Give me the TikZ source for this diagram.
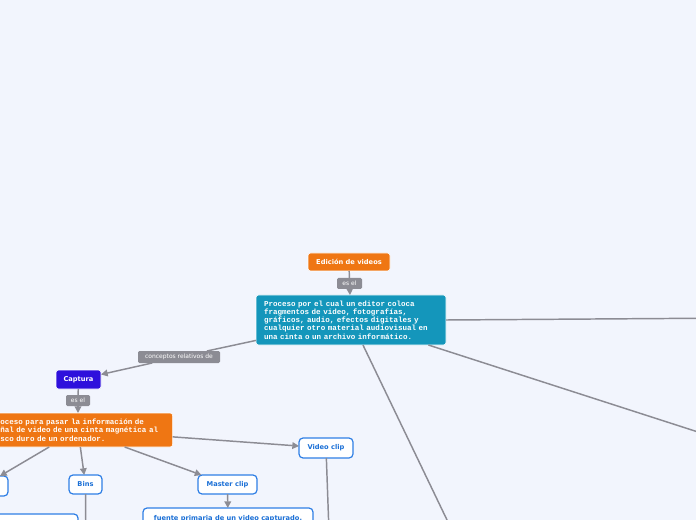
\documentclass[tikz,border=0pt]{standalone}
\usepackage{fontspec}
\usetikzlibrary{arrows.meta}
\newfontfamily\mmsans{DejaVu Sans}
\newfontfamily\mmmono{Liberation Mono}
\definecolor{mmBack}{HTML}{F2F5FD}
\definecolor{mmOrange}{HTML}{EF7613}
\definecolor{mmTeal}{HTML}{1496BB}
\definecolor{mmViolet}{HTML}{2E10DC}
\definecolor{mmBlue}{HTML}{2F7FE5}
\definecolor{mmBlueText}{HTML}{1A6FD6}
\definecolor{mmGrey}{HTML}{8C8C94}

\begin{document}
\begin{tikzpicture}[
    x=0.75pt, y=-0.75pt,
    every node/.style={inner sep=0pt, outer sep=0pt},
    topic/.style={rounded corners=2pt, draw=white, line width=0.4pt,
        font=\mmsans\bfseries\fontsize{5}{6}\selectfont, text=white},
    textbox/.style={rounded corners=2pt, draw=white, line width=0.4pt,
        font=\mmmono\bfseries\fontsize{5.65}{6.2}\selectfont,
        text=white, align=left, inner xsep=6pt},
    leaf/.style={rounded corners=3pt, fill=white, draw=mmBlue, line width=0.9pt,
        font=\mmsans\bfseries\fontsize{5}{6}\selectfont, text=mmBlueText},
    tag/.style={rounded corners=1pt, fill=mmGrey, text=white,
        font=\mmsans\fontsize{4.5}{5}\selectfont},
    link/.style={mmGrey, line width=1.1pt},
    linkto/.style={link, -{Triangle[length=5pt, width=5pt]}},
]

% frame: 696 x 520 px, y grows downward
\useasboundingbox (0,0) rectangle (696,520);
\clip (0,0) rectangle (696,520);
\fill[mmBack] (0,0) rectangle (696,520);

% ----------------------------------------------------------------------
% Central topic and its definition
% ----------------------------------------------------------------------
\node[topic, fill=mmOrange, minimum width=61.5pt, minimum height=13.5pt]
    (edicion) at (349,262) {Edición de videos};
\node[tag, minimum width=18.75pt, minimum height=8.25pt]
    (esel1) at (349.5,283.5) {es el};
\node[textbox, fill=mmTeal, text width=130.5pt, minimum height=37.5pt]
    (proceso) at (351,320)
    {Proceso por el cual un editor coloca\\
     fragmentos de video, fotografías,\\
     gráficos, audio, efectos digitales y\\
     cualquier otro material audiovisual en\\
     una cinta o un archivo informático.};

% branches leaving the frame
\coordinate (offR1) at (740,318);
\coordinate (offR2) at (760,452);
\coordinate (offB)  at (460,547);

\draw[link] (edicion) -- (esel1);
\draw[linkto] (esel1) -- (proceso);
\draw[link] (proceso.east) -- (offR1);
\draw[link] (proceso) -- (offR2);
\draw[link] (proceso) -- (offB);

% ----------------------------------------------------------------------
% Captura branch
% ----------------------------------------------------------------------
\node[tag, minimum width=61.5pt, minimum height=9pt]
    (conceptos) at (179,357) {conceptos relativos de};
\node[topic, fill=mmViolet, minimum width=33.75pt, minimum height=14.25pt]
    (captura) at (78.5,379.5) {Captura};
\node[tag, minimum width=18pt, minimum height=8.25pt]
    (esel2) at (78,400.5) {es el};
\node[textbox, fill=mmOrange, text width=130pt, minimum height=25.5pt]
    (pasar) at (78,430)
    {Proceso para pasar la información de\\
     señal de video de una cinta magnética al\\
     disco duro de un ordenador.};

\draw[link] (proceso) -- (conceptos);
\draw[linkto] (conceptos) -- (captura);
\draw[link] (captura) -- (esel2);
\draw[linkto] (esel2) -- (pasar);

% ----------------------------------------------------------------------
% Leaves under Captura
% ----------------------------------------------------------------------
\node[leaf, minimum width=37.5pt, minimum height=15pt]
    (otro) at (-17,486) {};
\node[leaf, minimum width=24.75pt, minimum height=14.25pt]
    (bins) at (85.5,484.5) {Bins};
\node[leaf, minimum width=44.25pt, minimum height=14.25pt]
    (master) at (227.5,484.5) {Master clip};
\node[leaf, minimum width=40.5pt, minimum height=15pt]
    (video) at (326,448) {Video clip};

\foreach \n in {otro,bins,master,video}
    \draw[linkto] (pasar) -- (\n);

\node[leaf, anchor=north, minimum width=127.5pt, minimum height=16pt,
    inner ysep=3pt] (fuente) at (228,508)
    {fuente primaria de un video capturado.};
\node[leaf, anchor=north east, minimum width=90pt, minimum height=22pt]
    (bajo) at (78,514) {};

\coordinate (binsDown)  at (86,560);
\coordinate (videoDown) at (330,560);

\draw[linkto] (master) -- (fuente);
\draw[link] (bins) -- (binsDown);
\draw[link] (video) -- (videoDown);

\end{tikzpicture}
\end{document}
